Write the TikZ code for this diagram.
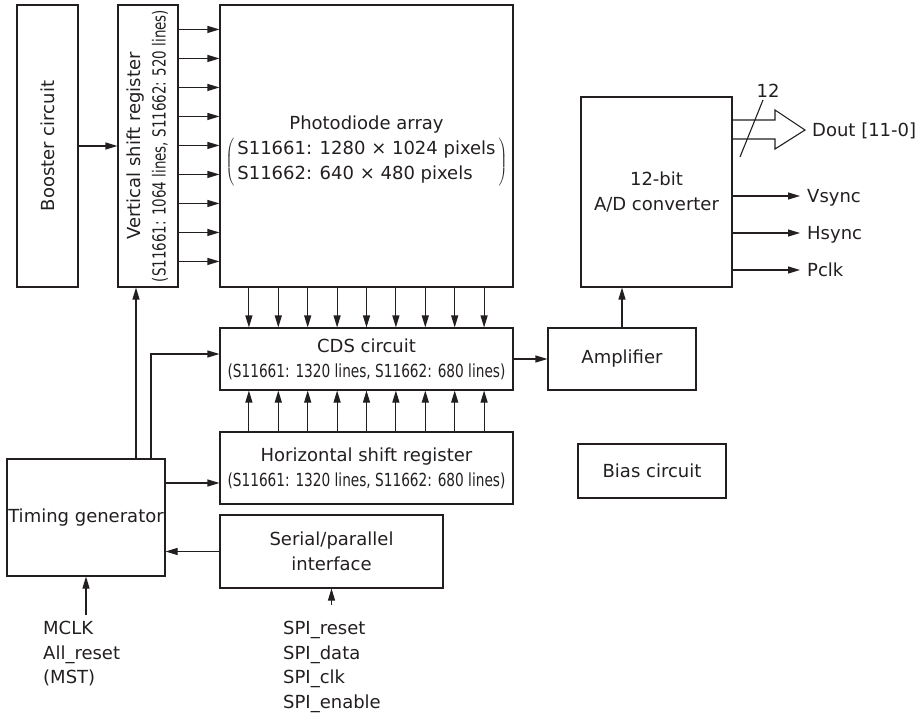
\documentclass[tikz,border=0pt]{standalone}
\usepackage{fontspec}
\setmainfont{DejaVu Sans}
\usetikzlibrary{arrows.meta, positioning, calc}
\definecolor{ink}{HTML}{231F20}
\newcommand{\narrowtext}[1]{\scalebox{0.76}[1]{#1}}

\begin{document}
\begin{tikzpicture}[
  x=1pt, y=-1pt,
  >={Triangle[length=12pt,width=7pt]},
  every node/.style={font=\fontsize{18}{25}\selectfont, text=ink},
  blk/.style={draw=ink, line width=1.1pt, inner sep=0pt, align=center},
  sig/.style={inner sep=0pt, anchor=west, text height=13pt, text depth=0pt},
  pins/.style={inner sep=0pt, anchor=north west, align=left,
               font=\fontsize{18}{24.5}\selectfont},
  edge/.style={->, line width=1.1pt, draw=ink}
]
  \useasboundingbox (0,0) rectangle (919,718);

  \node[blk, minimum width=61pt, minimum height=282pt] (booster) at (47.5,146)
    {\rotatebox{90}{Booster circuit}};
  \node[blk, minimum width=60pt, minimum height=282pt] (vsr) at (148,146)
    {\rotatebox{90}{\begin{tabular}{@{}c@{}}Vertical shift register\\
     \scalebox{0.745}[1]{(S11661: 1064 lines, S11662: 520 lines)}\end{tabular}}};
  \node[blk, minimum width=293pt, minimum height=282pt] (pda) at (366.5,146)
    {\rule{0pt}{24pt}Photodiode array\\[3pt]
     $\left(\hspace{3pt}\begin{tabular}{@{}l@{}}S11661: 1280 × 1024 pixels\\
      S11662: 640 × 480 pixels\end{tabular}\hspace{3pt}\right)$};
  \node[blk, minimum width=293pt, minimum height=62pt] (cds) at (366.5,359)
    {CDS circuit\\ \narrowtext{(S11661: 1320 lines, S11662: 680 lines)}};
  \node[blk, minimum width=293pt, minimum height=72pt] (hsr) at (366.5,468)
    {Horizontal shift register\\ \narrowtext{(S11661: 1320 lines, S11662: 680 lines)}};
  \node[blk, minimum width=158pt, minimum height=117pt] (tg) at (86,517.5) {Timing generator};
  \node[blk, minimum width=223pt, minimum height=73pt] (spi) at (331.5,551.5)
    {Serial/parallel\\interface};
  \node[blk, minimum width=148pt, minimum height=62pt] (amp) at (622,359) {Amplifier};
  \node[blk, minimum width=148pt, minimum height=54pt] (bias) at (652,471) {Bias circuit};
  \node[blk, minimum width=151pt, minimum height=190pt] (adc) at (656.5,192)
    {12-bit\\A/D converter};

  % input pins
  \node[pins] (mclk) at (43,621) {MCLK\\All\_reset\\(MST)};
  \node[pins] (spil) at (283,621) {SPI\_reset\\SPI\_data\\SPI\_clk\\SPI\_enable};

  % output pins
  \node[sig] (dout)  at (812,130) {Dout [11-0]};
  \node[sig] (vsync) at (807,196) {Vsync};
  \node[sig] (hsync) at (807,233) {Hsync};
  \node[sig] (pclk)  at (807,270) {Pclk};
  \node (buswidth) at (768,91) {12};

  \coordinate (vsrin) at ($(vsr.south)+(-12,0)$);
  \coordinate (cdsin) at ($(cds.west)+(0,-5)$);
  \coordinate (hsrin) at ($(hsr.west)+(0,15)$);
  \coordinate (tip)   at ($(dout.west)+(-7,0)$);

  \foreach \k in {0,...,8}
    \draw[edge] ($(vsr.north east)+(0,25+29*\k)$) -- ($(pda.north west)+(0,25+29*\k)$);
  \foreach \k in {-4,...,4} {
    \draw[edge] ($(pda.south)+(29.4*\k,0)$) -- ($(cds.north)+(29.4*\k,0)$);
    \draw[edge] ($(hsr.north)+(29.4*\k,0)$) -- ($(cds.south)+(29.4*\k,0)$);
  }

  \draw[edge] (booster) -- (vsr);
  \draw[edge] (tg.north -| vsrin) -- (vsrin);
  \draw[edge] ($(tg.north)+(65,0)$) |- (cdsin);
  \draw[edge] (tg.east |- hsrin) -- (hsrin);
  \draw[edge] (spi.west) -- (spi.west -| tg.east);
  \draw[edge] ($(tg.south |- mclk.north)+(0,-6)$) -- (tg.south);
  \draw[edge] ($(spi.south |- spil.north)+(0,-16)$) -- (spi.south);
  \draw[edge] (cds) -- (amp);
  \draw[edge] (amp.north) -- (amp.north |- adc.south);

  \draw[edge] (adc.east |- vsync.west) -- ($(vsync.west)+(-7,0)$);
  \draw[edge] (adc.east |- hsync.west) -- ($(hsync.west)+(-7,0)$);
  \draw[edge] (adc.east |- pclk.west)  -- ($(pclk.west)+(-7,0)$);

  % bus arrow
  \draw[ink, line width=1.1pt, line join=miter]
    ($(adc.east |- tip)+(0,-10)$) -- ($(tip)+(-30,-10)$) -- ($(tip)+(-30,-20)$)
    -- (tip) -- ($(tip)+(-30,19)$) -- ($(tip)+(-30,9)$) -- ($(adc.east |- tip)+(0,9)$);
  \draw[ink, line width=1.1pt] (740,157) -- (763,100);
\end{tikzpicture}
\end{document}
